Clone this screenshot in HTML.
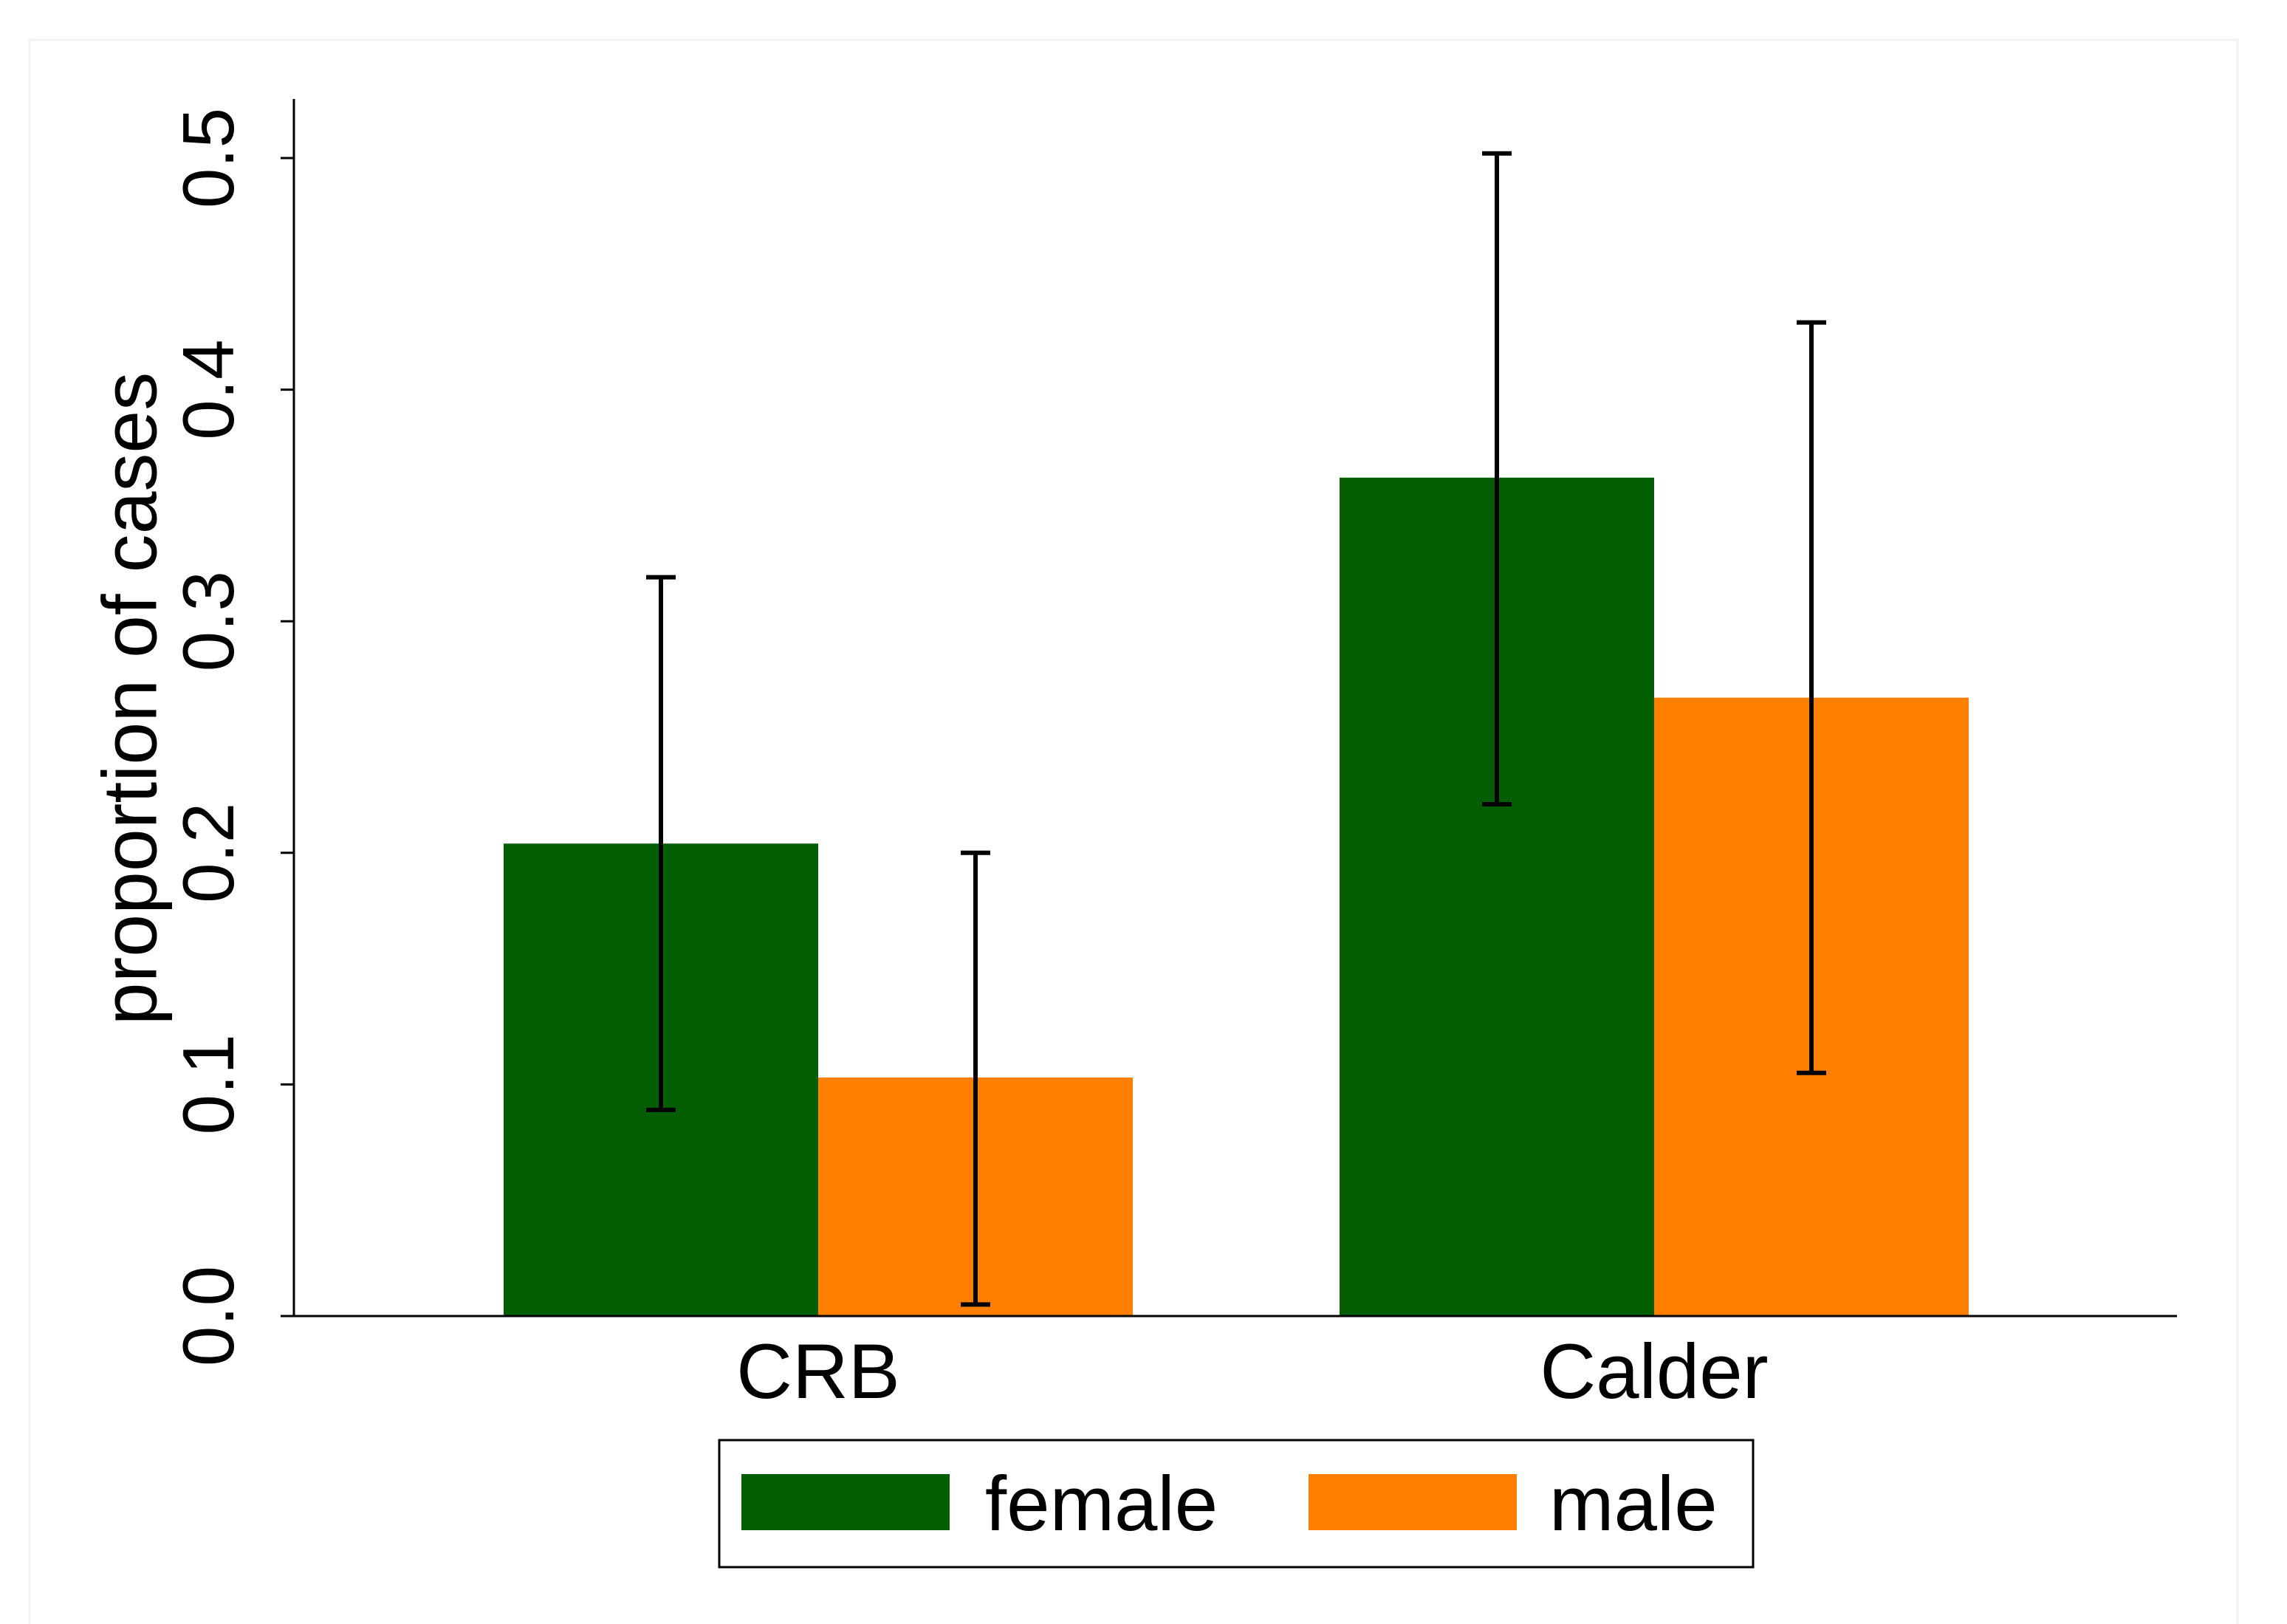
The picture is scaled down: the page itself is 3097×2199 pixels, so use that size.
<!DOCTYPE html>
<html><head><meta charset="utf-8"><style>
html,body{margin:0;padding:0;background:#fff;}
svg{display:block;font-family:"Liberation Sans",Arial,sans-serif;}
</style></head><body>
<svg id="chart" width="3097" height="2199" viewBox="0 0 3097 2199" xmlns="http://www.w3.org/2000/svg">
<rect x="40" y="54" width="2990" height="2162" fill="#fff" stroke="#f0f4f4" stroke-width="3"/>
<g id="plot"></g>
<text x="184" y="946" transform="rotate(-90 184 946)" text-anchor="middle" font-size="104" dominant-baseline="middle">proportion of cases</text>
<g>
<rect x="974" y="1950" width="1400" height="172" fill="#fff" stroke="#000" stroke-width="3"/>
<rect x="1004" y="1996" width="282" height="76" fill="#045e04"/>
<text x="1334" y="2072" font-size="105">female</text>
<rect x="1772" y="1996" width="282" height="76" fill="#ff7f00"/>
<text x="2098" y="2072" font-size="105">male</text>
</g>
</svg>
<script>
const categories = ["CRB", "Calder"];
const seriesNames = ["female", "male"];
const femaleValues = [0.204, 0.362];
const maleValues = [0.103, 0.267];
const femaleLow = [0.089, 0.221];
const femaleHigh = [0.319, 0.502];
const maleLow = [0.005, 0.105];
const maleHigh = [0.200, 0.429];
const yTicks = [0.0, 0.1, 0.2, 0.3, 0.4, 0.5];
const yTickLabels = ["0.0", "0.1", "0.2", "0.3", "0.4", "0.5"];

const NS = "http://www.w3.org/2000/svg";
const g = document.getElementById("plot");
const x0 = 398, x1 = 2948, yBase = 1782, yTop = 134;
const yScale = v => yBase - v * 3136;
const groupCenter = i => 1108 + i * 1132;
const barW = 426;
function mk(tag, attrs){const e=document.createElementNS(NS,tag);for(const k in attrs)e.setAttribute(k,attrs[k]);g.appendChild(e);return e;}

const series = [
 {vals: femaleValues, lo: femaleLow, hi: femaleHigh, color: "#045e04", off: -1},
 {vals: maleValues, lo: maleLow, hi: maleHigh, color: "#ff7f00", off: 0}
];
series.forEach((s, si) => {
  categories.forEach((c, i) => {
    const xl = groupCenter(i) + s.off * barW;
    const r = mk("rect", {x: xl, y: yScale(s.vals[i]), width: barW, height: yBase - yScale(s.vals[i]), fill: s.color});
    
    
  });
});
series.forEach((s, si) => {
  categories.forEach((c, i) => {
    const xc = groupCenter(i) + s.off * barW + barW / 2;
    const yl = yScale(s.lo[i]), yh = yScale(s.hi[i]);
    const eg = document.createElementNS(NS, "g");
    
    
    g.appendChild(eg);
    [[xc, yl, xc, yh], [xc - 20, yl, xc + 20, yl], [xc - 20, yh, xc + 20, yh]].forEach(p => {
      const l = document.createElementNS(NS, "line");
      l.setAttribute("x1", p[0]); l.setAttribute("y1", p[1]); l.setAttribute("x2", p[2]); l.setAttribute("y2", p[3]);
      l.setAttribute("stroke", "#000"); l.setAttribute("stroke-width", "6");
      eg.appendChild(l);
    });
  });
});
const ya = mk("line", {x1: x0, y1: yTop, x2: x0, y2: yBase, stroke: "#000", "stroke-width": 3});


const xa = mk("line", {x1: x0, y1: yBase, x2: x1, y2: yBase, stroke: "#000", "stroke-width": 3});


yTicks.forEach((t, i) => {
  const y = yScale(t);
  const tk = mk("line", {x1: x0 - 18, y1: y, x2: x0, y2: y, stroke: "#000", "stroke-width": 3});
  
  
  const tx = mk("text", {x: 290, y: y, transform: `rotate(-90 290 ${y})`, "text-anchor": "middle", "dominant-baseline": "middle", "font-size": 98});
  tx.textContent = yTickLabels[i];
  
  
});
categories.forEach((c, i) => {
  const tx = mk("text", {x: groupCenter(i), y: 1893, "text-anchor": "middle", "font-size": 105});
  tx.textContent = c;
  
  
});
</script>
</body></html>
